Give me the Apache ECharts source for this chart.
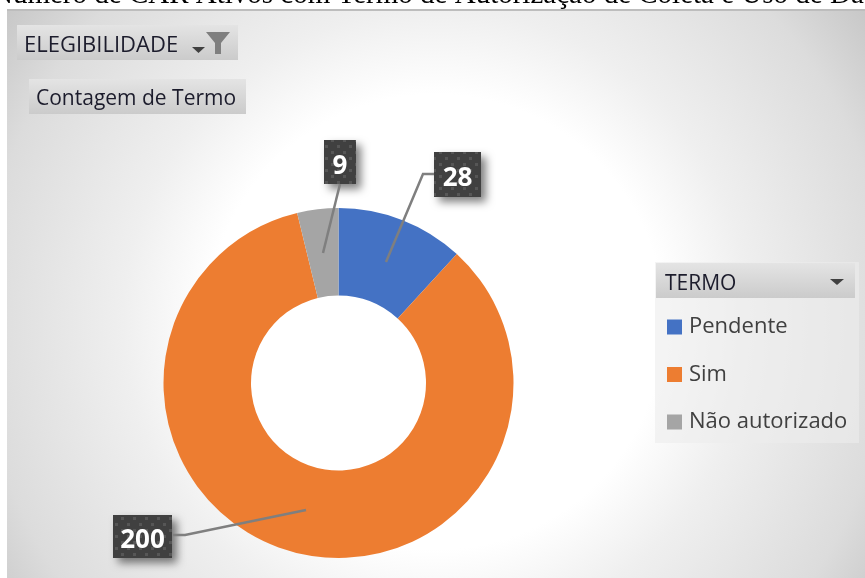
<!DOCTYPE html>
<html>
<head>
<meta charset="utf-8">
<style>html,body{margin:0;padding:0;background:#fff}#main{width:865px;height:578px}</style>
<script src="https://cdn.jsdelivr.net/npm/echarts@6/dist/echarts.min.js"></script>
</head>
<body>
<div id="main"></div>
<script>
var categories = ['Pendente', 'Sim', 'Não autorizado'];
var values = [28, 200, 9];
var colors = ['#4472c4', '#ed7d31', '#a5a5a5'];
var titleText = 'Número de CAR Ativos com Termo de Autorização de Coleta e Uso de Dados';

// callout boxes: left, top, w, h
var boxes = [[434, 152, 47, 45], [113, 515, 59, 43], [324, 140, 32, 44]];
var leaders = [
  [[434, 174], [423, 174], [386, 262]],
  [[173, 535], [185, 535], [306, 510]],
  [[340, 184], [323, 253]]
];

// dotted texture of the callouts, one tile
function dotTile() {
  var c = document.createElement('canvas');
  c.width = 12; c.height = 12;
  var g = c.getContext('2d');
  g.fillStyle = '#404040';
  g.fillRect(0, 0, 12, 12);
  g.fillStyle = '#565656';
  g.fillRect(1, 1, 3, 3);
  g.fillRect(7, 7, 3, 3);
  return c;
}
var tile = dotTile();

var myChart = echarts.init(document.getElementById('main'));

var grayBtn = {
  type: 'linear', x: 0, y: 0, x2: 0, y2: 1,
  colorStops: [{offset: 0, color: '#e4e4e4'}, {offset: 1, color: '#cbcbcb'}]
};
var uiFont = '"Open Sans"';

var graphics = [
  {type: 'text', z: -20, style: {x: -8, y: 10, text: titleText, align: 'left', verticalAlign: 'bottom',
    font: '29px "Liberation Serif"', fill: '#000'}},
  {type: 'rect', z: -10, shape: {x: 7, y: 9, width: 858, height: 569},
    style: {fill: {type: 'radial', x: 0.5, y: 0.55, r: 1, colorStops: [
      {offset: 0, color: '#ffffff'}, {offset: 0.4, color: '#ffffff'},
      {offset: 0.55, color: '#efefef'}, {offset: 0.8, color: '#dcdcdc'}, {offset: 1, color: '#bdbdbd'}]}}},
  {type: 'rect', z: -9, shape: {x: 7, y: 9, width: 858, height: 2}, style: {fill: '#bdbdbd'}},
  {type: 'rect', z: -9, shape: {x: 17, y: 25, width: 221, height: 35}, style: {fill: grayBtn}},
  {type: 'text', z: -8, style: {x: 24, y: 46, text: 'ELEGIBILIDADE', verticalAlign: 'middle', font: '22px ' + uiFont, fill: '#1c1c2c'}},
  {type: 'polygon', z: -8, shape: {points: [[192, 47], [205, 47], [198.5, 53]]}, style: {fill: '#404040'}},
  {type: 'polygon', z: -8, shape: {points: [[206, 32], [230, 32], [221, 43], [221, 54], [215, 54], [215, 43]]}, style: {fill: '#7f7f7f'}},
  {type: 'rect', z: -9, shape: {x: 29, y: 79, width: 217, height: 35}, style: {fill: grayBtn}},
  {type: 'text', z: -8, style: {x: 36, y: 99, text: 'Contagem de Termo', verticalAlign: 'middle', font: '21px ' + uiFont, fill: '#1c1c2c'}},
  {type: 'rect', z: -9, shape: {x: 655, y: 262, width: 204, height: 181}, style: {fill: '#ececec', opacity: 0.6}},
  {type: 'rect', z: -8, shape: {x: 656, y: 263, width: 199, height: 35}, style: {fill: grayBtn}},
  {type: 'text', z: -7, style: {x: 665, y: 284, text: 'TERMO', verticalAlign: 'middle', font: '21px ' + uiFont, fill: '#1c1c2c'}},
  {type: 'polygon', z: -7, shape: {points: [[830, 279], [844, 279], [837, 285]]}, style: {fill: '#404040'}}
];
boxes.forEach(function (b) {
  graphics.push({type: 'rect', z: 1, shape: {x: b[0], y: b[1], width: b[2], height: b[3]},
    style: {fill: {image: tile, repeat: 'repeat'}, shadowColor: 'rgba(0,0,0,0.5)', shadowBlur: 9, shadowOffsetX: 5, shadowOffsetY: 5}});
});
leaders.forEach(function (pts) {
  graphics.push({type: 'polyline', z: 50, shape: {points: pts}, style: {stroke: '#7f7f7f', lineWidth: 2.5, fill: null}});
});

myChart.setOption({
  animation: false,
  graphic: graphics,
  legend: {
    orient: 'vertical', left: 667, top: 316, padding: 0, itemWidth: 15, itemHeight: 15, itemGap: 25.5,
    icon: 'rect', data: categories,
    textStyle: {fontFamily: uiFont, fontSize: 22, color: '#404040', padding: [0, 0, 0, 2]}
  },
  series: [{
    type: 'pie',
    center: [338.5, 383],
    radius: [87.5, 175],
    startAngle: 90,
    silent: true,
    labelLine: {show: false},
    label: {
      show: true, position: 'outside', formatter: '{c}',
      fontFamily: uiFont, fontSize: 26, fontWeight: 'bold', color: '#fff'
    },
    data: values.map(function (v, i) {
      return {name: categories[i], value: v, itemStyle: {color: colors[i]}};
    }),
    labelLayout: function (p) {
      var b = boxes[p.dataIndex];
      return {x: b[0] + b[2] / 2, y: b[1] + b[3] / 2 + 4.5, align: 'center', verticalAlign: 'middle', hideOverlap: false};
    }
  }]
});
</script>
</body>
</html>
